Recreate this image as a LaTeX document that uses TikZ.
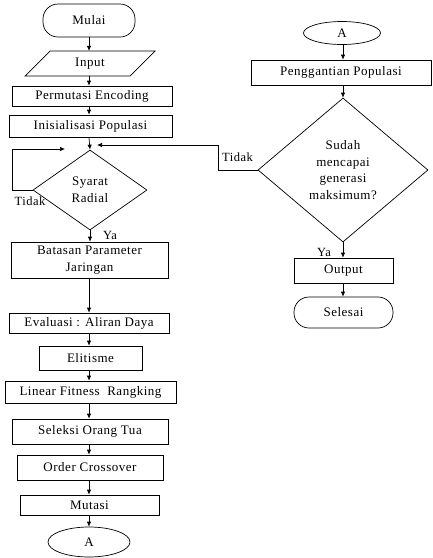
\documentclass[tikz,border=0pt]{standalone}
\usepackage{fontspec}
\setmainfont{Liberation Serif}[LetterSpace=4]
\usetikzlibrary{arrows.meta,shapes.geometric}
\begin{document}
\begin{tikzpicture}[x=1pt,y=-1pt,
  every node/.style={font=\fontsize{13}{17}\selectfont, inner sep=0pt},
  box/.style={draw, line width=0.7pt, align=center},
  term/.style={draw, line width=0.7pt, rounded corners=15pt},
  oval/.style={draw, line width=0.7pt, ellipse},
  dec/.style={draw, line width=0.7pt, diamond, align=center},
  lbl/.style={font=\fontsize{12.5}{15}\selectfont},
  arr/.style={line width=0.7pt, -{Latex[length=5pt,width=4.5pt]}},
  ln/.style={line width=0.7pt}]
\useasboundingbox (0,0) rectangle (432,558);
\coordinate (colL) at (89,0);
\coordinate (colR) at (343,0);
% left column
\node[term, minimum width=92, minimum height=33] (mulai) at (89,20.5) {Mulai};
\node[minimum width=105, minimum height=25] (input) at (90,63.5) {Input};
\draw[ln] (50,51) -- (155,51) -- (130,76) -- (25,76) -- cycle;
\node[box, minimum width=160, minimum height=20] (perm) at (92,96) {Permutasi Encoding};
\node[box, minimum width=163, minimum height=22] (inis) at (90.5,126) {Inisialisasi Populasi};
\node[dec, minimum width=114, minimum height=80, aspect=1.425] (d1) at (90,190) {Syarat\\Radial};
\node[box, minimum width=157, minimum height=36] (bat) at (89.5,260) {Batasan Parameter\\Jaringan};
\node[box, minimum width=160, minimum height=20] (eval) at (89,323) {Evaluasi : Aliran Daya};
\node[box, minimum width=103, minimum height=24] (elit) at (90.5,358) {Elitisme};
\node[box, minimum width=171, minimum height=22] (lin) at (90.5,392) {Linear Fitness\ \ Rangking};
\node[box, minimum width=156, minimum height=25] (sel) at (90,431.5) {Seleksi Orang Tua};
\node[box, minimum width=146, minimum height=25] (ord) at (90,467.5) {Order Crossover};
\node[box, minimum width=139, minimum height=20] (mut) at (89.5,505) {Mutasi};
\node[oval, minimum width=82, minimum height=30] (a1) at (89,542) {A};
% right column
\node[oval, minimum width=77, minimum height=23] (a2) at (342,33) {A};
\node[box, minimum width=180, minimum height=25] (peng) at (341,72.5) {Penggantian Populasi};
\node[dec, minimum width=170, minimum height=144, aspect=1.18, font=\fontsize{13}{16.5}\selectfont] (d2) at (343,170) {Sudah\\mencapai\\generasi\\maksimum?};
\node[box, minimum width=99, minimum height=25] (out) at (343.5,270.5) {Output};
\node[term, minimum width=99, minimum height=31] (sls) at (343.5,312.5) {Selesai};
% connectors left
\draw[arr] (mulai.south -| colL) -- (input.north -| colL);
\draw[arr] (input.south -| colL) -- (perm.north -| colL);
\draw[arr] (perm.south -| colL) -- (inis.north -| colL);
\draw[arr] (inis.south -| colL) -- (d1.north);
\draw[arr] (d1.south) -- (bat.north -| d1.south);
\draw[arr] (bat.south -| colL) -- (eval.north -| colL);
\draw[arr] (eval.south -| colL) -- (elit.north -| colL);
\draw[arr] (elit.south -| colL) -- (lin.north -| colL);
\draw[arr] (lin.south -| colL) -- (sel.north -| colL);
\draw[arr] (sel.south -| colL) -- (ord.north -| colL);
\draw[arr] (ord.south -| colL) -- (mut.north -| colL);
\draw[arr] (mut.south -| colL) -- (a1.north -| colL);
% loop left
\coordinate (loopL) at (12,149);
\coordinate (loopE) at (65,149);
\draw[arr] (d1.west) -| (loopL) -- (loopE);
\node[lbl] (t1) at (30,201) {Tidak};
\node[lbl] (y1) at (110,235) {Ya};
% connectors right
\draw[arr] (a2.south -| colR) -- (peng.north -| colR);
\draw[arr] (peng.south -| colR) -- (d2.north);
\draw[arr] (d2.south) -- (out.north -| d2.south);
\draw[arr] (out.south -| colR) -- (sls.north -| colR);
\coordinate (rL) at (218,145);
\coordinate (rE) at (97,145);
\draw[arr] (d2.west) -| (rL) -- (rE);
\node[lbl] (t2) at (237.5,157) {Tidak};
\node[lbl] (y2) at (324,252) {Ya};
\end{tikzpicture}
\end{document}
